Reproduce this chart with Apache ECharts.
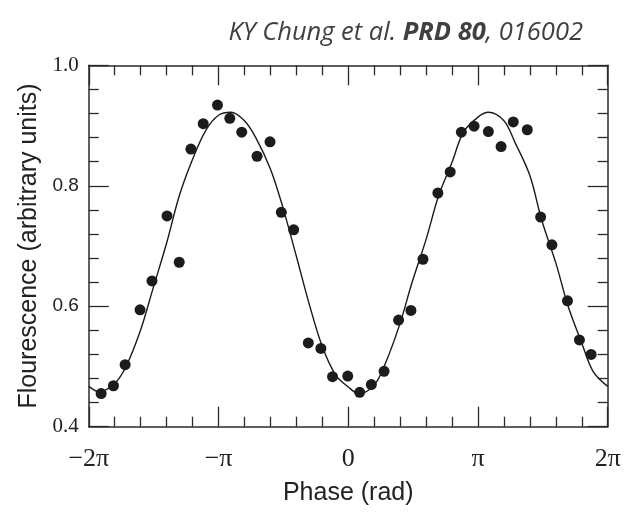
<!DOCTYPE html>
<html>
<head>
<meta charset="utf-8">
<script src="https://cdn.jsdelivr.net/npm/echarts@6/dist/echarts.min.js"></script>
<style>
html,body{margin:0;padding:0;background:#fff;}
#chart{width:625px;height:515px;}
</style>
</head>
<body>
<div id="chart"></div>
<script>
// Phase in units of pi
const pointPhase = [-1.905,-1.810,-1.720,-1.605,-1.513,-1.397,-1.303,-1.213,-1.118,-1.008,
  -0.913,-0.821,-0.703,-0.603,-0.516,-0.421,-0.308,-0.211,-0.121,-0.004,
  0.088,0.178,0.276,0.388,0.483,0.576,0.691,0.786,0.872,0.970,
  1.080,1.178,1.272,1.380,1.483,1.570,1.690,1.782,1.872];
const pointValue = [0.455,0.468,0.503,0.594,0.642,0.750,0.673,0.861,0.903,0.934,
  0.912,0.889,0.849,0.873,0.756,0.727,0.539,0.530,0.483,0.484,
  0.457,0.470,0.492,0.577,0.593,0.678,0.788,0.823,0.889,0.899,
  0.890,0.865,0.906,0.893,0.748,0.702,0.609,0.544,0.520];

const fitPhase = [-2.0,-1.918,-1.8,-1.713,-1.6,-1.507,-1.4,-1.303,-1.2,-1.098,-1.0,-0.905,-0.8,-0.713,-0.6,-0.508,-0.4,-0.304,-0.2,-0.098,
  0.0,0.081,0.2,0.286,0.4,0.491,0.6,0.696,0.8,0.888,1.0,1.080,1.2,1.285,1.4,1.490,1.6,1.695,1.8,1.887,2.0];
const fitValue = [0.467,0.458,0.472,0.500,0.561,0.628,0.705,0.783,0.844,0.892,0.917,0.922,0.908,0.880,0.828,0.767,0.683,0.606,0.533,0.486,
  0.466,0.455,0.469,0.505,0.572,0.639,0.711,0.783,0.839,0.889,0.914,0.922,0.908,0.872,0.817,0.744,0.672,0.600,0.539,0.492,0.467];

const xTickLabels = {'-2':'\u22122\u03c0','-1':'\u2212\u03c0','0':'0','1':'\u03c0','2':'2\u03c0'};
const yTickLabels = {'0.4':'0.4','0.6':'0.6','0.8':'0.8','1':'1.0'};

const chart = echarts.init(document.getElementById('chart'), null, {renderer:'canvas'});
const axisColor = '#2a2a2a';
const grid = {left:88.8, right:17.3, top:65.3, bottom:88.3};

function xAxisBase(pos){
  return {
    type:'value', position:pos, min:-2, max:2, interval:1,
    axisLine:{show:true, onZero:false, lineStyle:{color:axisColor, width:1.5}},
    axisTick:{show:true, inside:true, length:20, lineStyle:{color:axisColor, width:1.3}},
    minorTick:{show:true, splitNumber:5, length:10, lineStyle:{color:axisColor, width:1.3}},
    splitLine:{show:false}
  };
}
function yAxisBase(pos){
  return {
    type:'value', position:pos, min:0.4, max:1.0, interval:0.2,
    axisLine:{show:true, onZero:false, lineStyle:{color:axisColor, width:1.5}},
    axisTick:{show:true, inside:true, length:20, lineStyle:{color:axisColor, width:1.3}},
    minorTick:{show:true, splitNumber:5, length:10, lineStyle:{color:axisColor, width:1.3}},
    splitLine:{show:false}
  };
}

const xBottom = Object.assign(xAxisBase('bottom'), {
  name:'Phase (rad)', nameLocation:'middle', nameGap:54,
  nameTextStyle:{fontFamily:'Liberation Sans', fontSize:25, color:'#222'},
  axisLabel:{show:true, margin:19, fontFamily:'Liberation Serif', fontSize:26, color:'#222',
    formatter:function(v){ const k=String(Math.round(v)); return xTickLabels[k]!==undefined?xTickLabels[k]:''; }}
});
const xTop = Object.assign(xAxisBase('top'), {axisLabel:{show:false}});
const yLeft = Object.assign(yAxisBase('left'), {
  name:'Flourescence (arbitrary units)', nameLocation:'middle', nameGap:47,
  nameTextStyle:{fontFamily:'Liberation Sans', fontSize:25, color:'#222'},
  axisLabel:{show:true, margin:10, color:'#222', fontFamily:'Liberation Sans', fontSize:19,
    formatter:function(v){
      const k = String(Math.round(v*10)/10);
      const t = yTickLabels[k]; if(t===undefined) return '';
      return (k==='1'||k==='0.4') ? '{s|'+t+'}' : t;
    },
    rich:{
      s:{fontFamily:'Liberation Serif', fontSize:21, color:'#222'}
    }}
});
const yRight = Object.assign(yAxisBase('right'), {axisLabel:{show:false}});

chart.setOption({
  animation:false,
  backgroundColor:'#fff',
  grid:grid,
  xAxis:[xBottom, xTop],
  yAxis:[yLeft, yRight],
  graphic:[{
    type:'text', right:42, top:20,
    style:{
      text:'{n|KY Chung et al. }{b|PRD 80}{n|, 016002}',
      rich:{
        n:{fontFamily:'Open Sans', fontStyle:'italic', fontSize:25.5, fill:'#404040', fontWeight:'normal'},
        b:{fontFamily:'Open Sans', fontStyle:'italic', fontSize:25.5, fill:'#404040', fontWeight:'bold'}
      }
    }
  }],
  series:[
    {
      type:'line', xAxisIndex:0, yAxisIndex:0,
      data:fitPhase.map((x,i)=>[x, fitValue[i]]),
      smooth:0.35, showSymbol:false, symbol:'none',
      lineStyle:{color:'#1a1a1a', width:1.4}, z:2
    },
    {
      type:'scatter', xAxisIndex:0, yAxisIndex:0,
      data:pointPhase.map((x,i)=>[x, pointValue[i]]),
      symbol:'circle', symbolSize:11,
      itemStyle:{color:'#1c1c1c', opacity:1}, z:3
    }
  ]
});
</script>
</body>
</html>
